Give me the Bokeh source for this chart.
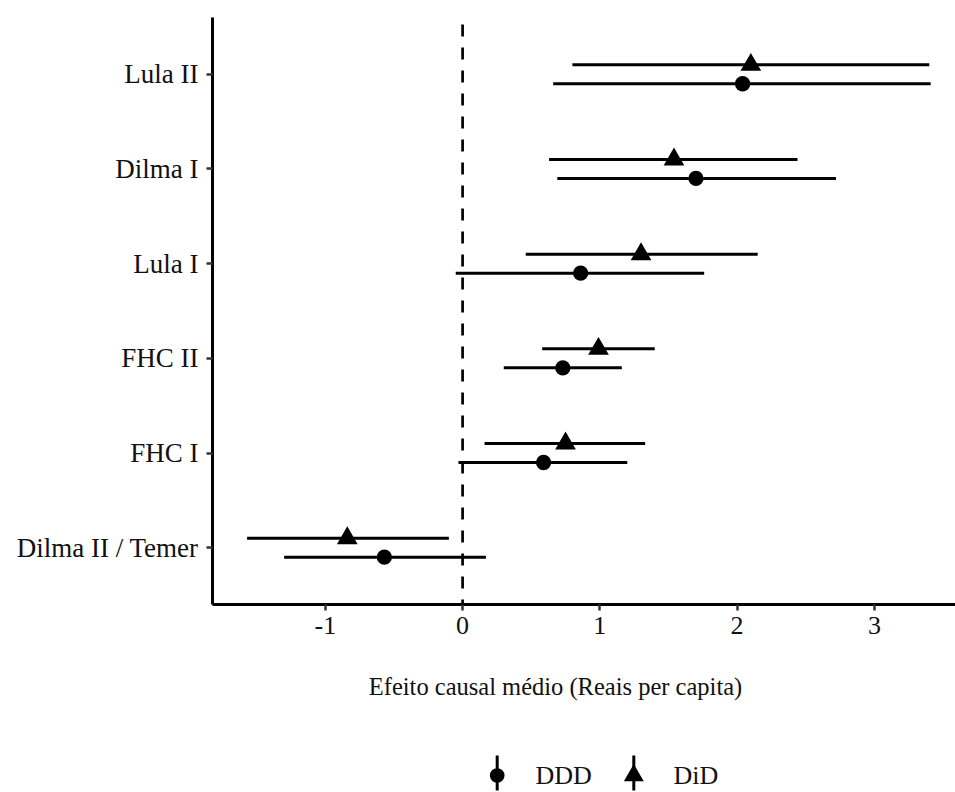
from bokeh.plotting import figure
from bokeh.models import Range1d, FixedTicker, Span, ColumnDataSource
from bokeh.layouts import column
from bokeh.embed import file_html
from bokeh.resources import INLINE

# Government periods (bottom to top) and estimated average causal effects
periods = ["Dilma II / Temer", "FHC I", "FHC II", "Lula I", "Dilma I", "Lula II"]

ddd_est = [-0.57, 0.59, 0.73, 0.86, 1.70, 2.04]
ddd_lo = [-1.30, -0.03, 0.30, -0.05, 0.69, 0.66]
ddd_hi = [0.17, 1.20, 1.16, 1.76, 2.72, 3.41]

did_est = [-0.84, 0.75, 0.99, 1.30, 1.54, 2.10]
did_lo = [-1.57, 0.16, 0.58, 0.46, 0.63, 0.80]
did_hi = [-0.10, 1.33, 1.40, 2.15, 2.44, 3.40]

series_names = ["DDD", "DiD"]
series_markers = ["circle", "triangle"]
series_sizes = [15.3, 20.7]
series_offsets = [-0.1, 0.1]

x_ticks = [-1, 0, 1, 2, 3]
x_title = "Efeito causal médio (Reais per capita)"

FONT = "Liberation Serif"
TEXT = "#111111"

positions = list(range(1, len(periods) + 1))

p = figure(
    width=955, height=660,
    x_range=Range1d(-1.822, 3.591), y_range=Range1d(0.4, 6.6),
    output_backend="svg", toolbar_location=None,
    min_border_top=17, min_border_left=212, min_border_right=0,
    min_border_bottom=56,
)
p.grid.visible = False
p.outline_line_color = None
p.background_fill_color = "white"
p.border_fill_color = "white"

# Reference line at zero effect
p.add_layout(Span(location=0, dimension="height", line_color="black",
                  line_width=2.7, line_dash="12 11", line_dash_offset=16))

series_data = [(ddd_est, ddd_lo, ddd_hi), (did_est, did_lo, did_hi)]
for (est, lo, hi), marker, size, off in zip(series_data, series_markers,
                                              series_sizes, series_offsets):
    src = ColumnDataSource(dict(
        y=[v + off for v in positions], est=est, lo=lo, hi=hi))
    p.segment(x0="lo", y0="y", x1="hi", y1="y", source=src,
              line_color="black", line_width=3)
    p.scatter(x="est", y="y", source=src, marker=marker, size=size,
              fill_color="black", line_color=None)

for ax in (p.xaxis[0], p.yaxis[0]):
    ax.axis_line_color = "black"
    ax.axis_line_width = 3
    ax.major_tick_line_color = "#333333"
    ax.major_tick_line_width = 2.5
    ax.major_tick_in = 0
    ax.major_tick_out = 6
    ax.minor_tick_in = 0
    ax.minor_tick_out = 0
    ax.major_label_text_font = FONT
    ax.major_label_text_color = TEXT

p.xaxis.ticker = FixedTicker(ticks=x_ticks)
p.xaxis.major_label_overrides = {t: str(t) for t in x_ticks}
p.xaxis.major_label_text_font_size = "26px"
p.xaxis.major_label_standoff = 6

p.yaxis.ticker = FixedTicker(ticks=positions)
p.yaxis.major_label_overrides = {pos: name for pos, name in zip(positions, periods)}
p.yaxis.major_label_text_font_size = "27px"
p.yaxis.major_label_standoff = 8

# Strip below the chart (coordinates in page pixels): axis title and legend
foot = figure(
    width=955, height=132, x_range=Range1d(212, 955), y_range=Range1d(792, 660),
    output_backend="svg", toolbar_location=None,
    x_axis_location=None, y_axis_location=None,
    min_border_left=212, min_border_right=0, min_border_top=0,
    min_border_bottom=0,
)
foot.grid.visible = False
foot.outline_line_color = None
foot.background_fill_color = "white"
foot.border_fill_color = "white"

foot.text(x=[555], y=[686], text=[x_title], text_font=FONT,
          text_font_size="24.5px", text_color=TEXT, text_baseline="middle",
          text_align="center")

key_x = [496.7, 633.3]
label_x = [535, 673]
key_src = ColumnDataSource(dict(x=key_x, y0=[755, 755], y1=[790, 790]))
foot.segment(x0="x", y0="y0", x1="x", y1="y1", source=key_src,
             line_color="black", line_width=3)
for i, (marker, size) in enumerate(zip(series_markers, series_sizes)):
    foot.scatter(x=[key_x[i]], y=[775], marker=marker, size=size * 0.96,
                 fill_color="black", line_color=None)
foot.text(x=label_x, y=[775, 775], text=series_names, text_font=FONT,
          text_font_size="26px", text_color=TEXT, text_baseline="middle",
          text_align="left")

layout = column(p, foot, spacing=0)

open("out.html", "w").write(file_html(layout, INLINE))
